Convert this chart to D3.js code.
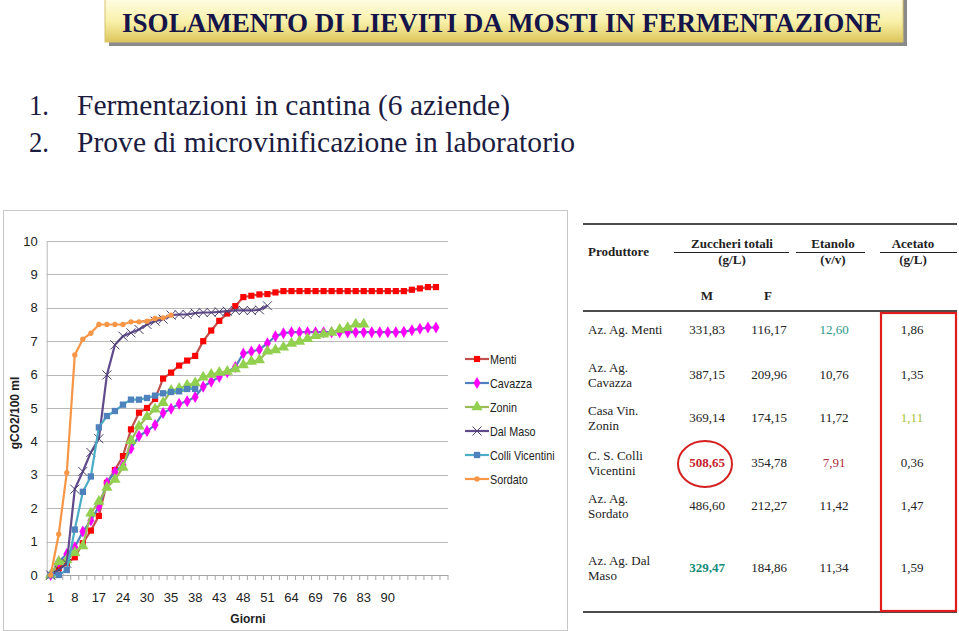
<!DOCTYPE html>
<html>
<head>
<meta charset="utf-8">
<script src="https://cdn.jsdelivr.net/npm/d3@7"></script>
<style>
  body { margin: 0; background: #fff; }
  svg { display: block; }
</style>
</head>
<body>
<div id="slide"></div>
<script>
// ---- data ----
var categories = d3.range(50);
var tickLabels = ["1", "8", "17", "24", "30", "35", "38", "43", "48", "51", "64", "69", "76", "83", "90"];
var yTicks = [0, 1, 2, 3, 4, 5, 6, 7, 8, 9, 10];

var menti = [0, 0.2, 0.35, 0.53, 0.95, 1.33, 1.77, 2.76, 3.14, 3.56, 4.36, 4.86, 5.0, 5.27, 5.88, 6.06, 6.27, 6.42, 6.56, 7.0, 7.32, 7.61, 7.83, 8.05, 8.32, 8.36, 8.4, 8.41, 8.46, 8.5,
  8.5, 8.5, 8.5, 8.5, 8.5, 8.5, 8.5, 8.5, 8.5, 8.5, 8.5, 8.5, 8.5, 8.5, 8.5, 8.54, 8.58, 8.62, 8.62];
var cavazza = [0, 0.4, 0.63, 0.83, 1.3, 1.63, 2.05, 2.76, 3.09, 3.29, 3.79, 4.16, 4.31, 4.49, 4.85, 4.98, 5.13, 5.2, 5.33, 5.64, 5.79, 5.93, 6.07, 6.23, 6.63, 6.69, 6.75, 6.94, 7.15, 7.24,
  7.27, 7.27, 7.27, 7.27, 7.27, 7.27, 7.27, 7.27, 7.27, 7.27, 7.27, 7.27, 7.27, 7.27, 7.28, 7.33, 7.37, 7.41, 7.41];
var zonin = [0, 0.4, 0.45, 0.67, 0.87, 1.85, 2.2, 2.62, 2.86, 3.22, 4.02, 4.45, 4.74, 4.96, 5.16, 5.52, 5.58, 5.68, 5.75, 5.92, 6.0, 6.06, 6.09, 6.17, 6.29, 6.39, 6.44, 6.7, 6.74, 6.82,
  6.93, 6.99, 7.07, 7.16, 7.21, 7.26, 7.35, 7.4, 7.51, 7.51];
var dalMaso = [0, 0.15, 0.35, 2.57, 3.1, 3.67, 4.08, 5.99, 6.89, 7.15, 7.25, 7.35, 7.5, 7.6, 7.66, 7.78, 7.8, 7.8, 7.84, 7.86, 7.86, 7.88, 7.9, 7.92, 7.92, 7.92, 7.94, 8.06];
var colliVicentini = [0, 0, 0.15, 1.36, 2.49, 2.95, 4.42, 4.76, 4.91, 5.1, 5.25, 5.25, 5.3, 5.37, 5.44, 5.48, 5.5, 5.57, 5.57];
var sordato = [0, 1.22, 3.06, 6.59, 7.06, 7.24, 7.5, 7.5, 7.5, 7.5, 7.58, 7.58, 7.6, 7.68, 7.7, 7.78];

var seriesNames = ["Menti", "Cavazza", "Zonin", "Dal Maso", "Colli Vicentini", "Sordato"];
var seriesValues = [menti, cavazza, zonin, dalMaso, colliVicentini, sordato];

// table
var tableRows = ["Az. Ag. Menti", "Az. Ag.|Cavazza", "Casa Vin.|Zonin", "C. S. Colli|Vicentini", "Az. Ag.|Sordato", "Az. Ag. Dal|Maso"];
var zuccheriM = ["331,83", "387,15", "369,14", "508,65", "486,60", "329,47"];
var zuccheriF = ["116,17", "209,96", "174,15", "354,78", "212,27", "184,86"];
var etanolo = ["12,60", "10,76", "11,72", "7,91", "11,42", "11,34"];
var acetato = ["1,86", "1,35", "1,11", "0,36", "1,47", "1,59"];

// ---- styles ----
var styles = [
  { line: "#c0504d", fill: "#ff0000", shape: "square", size: 38 },
  { line: "#4f81bd", fill: "#ff00ff", shape: "diamond", size: 42 },
  { line: "#9bbb59", fill: "#92d050", shape: "triangle", size: 55 },
  { line: "#5f4b8b", fill: "none", shape: "x", size: 4.5 },
  { line: "#4bacc6", fill: "#4f81bd", shape: "square", size: 40 },
  { line: "#f79646", fill: "#f79646", shape: "circle", size: 22 }
];

var W = 959, H = 631;
var svg = d3.select("#slide").append("svg")
    .attr("width", W)
    .attr("height", H);

var defs = svg.append("defs");
var grad = defs.append("linearGradient")
    .attr("id", "banner")
    .attr("x1", 0).attr("y1", 0).attr("x2", 0).attr("y2", 1);
grad.append("stop").attr("offset", "0%").attr("stop-color", "#fffde6");
grad.append("stop").attr("offset", "55%").attr("stop-color", "#f8f0a8");
grad.append("stop").attr("offset", "100%").attr("stop-color", "#dcc55a");

// Title banner
svg.append("rect")
    .attr("x", 109).attr("y", -2)
    .attr("width", 798).attr("height", 48)
    .attr("fill", "#8a8a8a");
svg.append("rect")
    .attr("x", 105).attr("y", -2)
    .attr("width", 798).attr("height", 44)
    .attr("fill", "url(#banner)")
    .attr("stroke", "#d8c470")
    .attr("stroke-width", 1);
svg.append("text")
    .attr("x", 122).attr("y", 32)
    .attr("textLength", 760)
    .attr("lengthAdjust", "spacingAndGlyphs")
    .attr("font-family", "Liberation Serif, Times New Roman, serif")
    .attr("font-weight", "bold")
    .attr("font-size", "28px")
    .attr("fill", "#15154a")
    .text("ISOLAMENTO DI LIEVITI DA MOSTI IN FERMENTAZIONE");

// Bullets
var bullets = ["Fermentazioni in cantina (6 aziende)", "Prove di microvinificazione in laboratorio"];
var bulletWidths = [433, 498];
bullets.forEach(function(b, i) {
    var yy = 115 + i * 37;
    svg.append("text")
        .attr("x", 29).attr("y", yy)
        .attr("font-family", "Liberation Serif, Times New Roman, serif")
        .attr("font-size", "30px")
        .attr("textLength", 20)
        .attr("lengthAdjust", "spacingAndGlyphs")
        .attr("fill", "#1c1c40")
        .text((i + 1) + ".");
    svg.append("text")
        .attr("x", 77).attr("y", yy)
        .attr("textLength", bulletWidths[i])
        .attr("lengthAdjust", "spacingAndGlyphs")
        .attr("font-family", "Liberation Serif, Times New Roman, serif")
        .attr("font-size", "30px")
        .attr("fill", "#1c1c40")
        .text(b);
});

// ---- chart ----
svg.append("rect")
    .attr("x", 3.5).attr("y", 210.5)
    .attr("width", 564).attr("height", 420)
    .attr("fill", "#fff")
    .attr("stroke", "#c8c8c8")
    .attr("stroke-width", 1);

var plot = { left: 46.7, right: 448, top: 241, bottom: 575 };
var chartFont = "Liberation Sans, Arial, sans-serif";

var x = d3.scaleBand()
    .domain(categories)
    .range([plot.left, plot.right]);

var y = d3.scaleLinear()
    .domain([0, 10])
    .range([plot.bottom, plot.top]);

var g = svg.append("g");

// gridlines
g.append("g")
    .selectAll("line")
    .data(yTicks)
    .enter().append("line")
        .attr("x1", plot.left)
        .attr("x2", plot.right)
        .attr("y1", function(d) { return Math.round(y(d)) + 0.5; })
        .attr("y2", function(d) { return Math.round(y(d)) + 0.5; })
        .attr("stroke", function(d) { return d === 0 ? "#a6a6a6" : "#b8b8b8"; })
        .attr("stroke-width", 1.2);

// y axis
var yAxisCall = d3.axisLeft(y)
    .tickValues(yTicks)
    .tickSize(0)
    .tickPadding(9);
var yAxis = g.append("g")
    .attr("class", "y-axis")
    .attr("transform", "translate(" + plot.left + ",0)")
    .call(yAxisCall);
yAxis.select(".domain").attr("stroke", "#b8b8b8");
yAxis.selectAll("text")
    .attr("font-family", chartFont)
    .style("font-size", "13px")
    .attr("fill", "#222");

// x axis: tick marks at category boundaries
g.append("g")
    .selectAll("line")
    .data(d3.range(categories.length + 1))
    .enter().append("line")
        .attr("x1", function(i) { return plot.left + i * x.step(); })
        .attr("x2", function(i) { return plot.left + i * x.step(); })
        .attr("y1", plot.bottom)
        .attr("y2", plot.bottom + 5)
        .attr("stroke", "#a6a6a6");

g.append("g")
    .selectAll("text")
    .data(tickLabels)
    .enter().append("text")
        .attr("x", function(d, i) { return x(i * 3) + x.bandwidth() / 2; })
        .attr("y", 602)
        .attr("text-anchor", "middle")
        .attr("font-family", chartFont)
        .attr("font-size", "13px")
        .attr("fill", "#222")
        .text(function(d) { return d; });

// axis labels
g.append("text")
    .attr("x", 248).attr("y", 623)
    .attr("text-anchor", "middle")
    .attr("font-family", chartFont)
    .attr("font-weight", "bold")
    .attr("font-size", "12px")
    .attr("fill", "#222")
    .text("Giorni");

g.append("text")
    .attr("transform", "translate(19,413) rotate(-90)")
    .attr("text-anchor", "middle")
    .attr("font-family", chartFont)
    .attr("font-weight", "bold")
    .attr("font-size", "12px")
    .attr("fill", "#222")
    .text("gCO2/100 ml");

var line = d3.line()
    .x(function(d, i) { return x(i) + x.bandwidth() / 2; })
    .y(function(d) { return y(d); });

function drawMarker(sel, st) {
    if (st.shape === "x") {
        var s = st.size;
        sel.append("path")
            .attr("d", "M" + (-s) + "," + (-s) + "L" + s + "," + s + "M" + (-s) + "," + s + "L" + s + "," + (-s))
            .attr("stroke", "#4a3f6e")
            .attr("stroke-width", 1)
            .attr("fill", "none");
    } else {
        var type = { square: d3.symbolSquare, diamond: d3.symbolDiamond, triangle: d3.symbolTriangle, circle: d3.symbolCircle }[st.shape];
        sel.append("path")
            .attr("d", d3.symbol().type(type).size(st.size))
            .attr("fill", st.fill)
            .attr("stroke", "none");
    }
}

seriesValues.forEach(function(vals, si) {
    var st = styles[si];
    var sg = g.append("g").attr("class", "series");
    sg.append("path")
        .datum(vals)
        .attr("d", line)
        .attr("fill", "none")
        .attr("stroke", st.line)
        .attr("stroke-width", 2.2);
    sg.selectAll(".pt")
        .data(vals)
        .enter().append("g")
            .attr("class", "pt")
            .attr("transform", function(d, i) {
                return "translate(" + (x(i) + x.bandwidth() / 2) + "," + y(d) + ")";
            })
            .each(function() { drawMarker(d3.select(this), st); });
});

// legend
var legend = g.append("g").attr("transform", "translate(465,359)");
seriesNames.forEach(function(name, i) {
    var st = styles[i];
    var lg = legend.append("g").attr("transform", "translate(0," + (i * 24) + ")");
    lg.append("line")
        .attr("x1", 0).attr("x2", 24)
        .attr("stroke", st.line)
        .attr("stroke-width", 2.2);
    drawMarker(lg.append("g").attr("transform", "translate(12,0)"), st);
    lg.append("text")
        .attr("transform", "translate(25,4.5) scale(0.83,1)")
        .attr("font-family", chartFont)
        .attr("font-size", "13px")
        .attr("fill", "#222")
        .text(name);
});

// ---- table ----
var tf = "Liberation Serif, Times New Roman, serif";
var tg = svg.append("g");
tg.append("rect")
    .attr("x", 570).attr("y", 211)
    .attr("width", 389).attr("height", 420)
    .attr("fill", "#fff");

tg.append("line").attr("x1", 583).attr("x2", 957).attr("y1", 224).attr("y2", 224)
    .attr("stroke", "#111").attr("stroke-width", 1.6);
tg.append("line").attr("x1", 583).attr("x2", 957).attr("y1", 311).attr("y2", 311)
    .attr("stroke", "#111").attr("stroke-width", 1.6);
tg.append("line").attr("x1", 583).attr("x2", 957).attr("y1", 612).attr("y2", 612)
    .attr("stroke", "#111").attr("stroke-width", 1.6);

function ttext(txt, xx, yy, opts) {
    opts = opts || {};
    return tg.append("text")
        .attr("x", xx).attr("y", yy)
        .attr("text-anchor", opts.anchor || "middle")
        .attr("font-family", tf)
        .attr("font-size", opts.size || "13px")
        .attr("font-weight", opts.bold ? "bold" : "normal")
        .attr("fill", opts.fill || "#222")
        .text(txt);
}

ttext("Produttore", 588, 256, { anchor: "start", bold: true });
var heads = [
  { t: "Zuccheri totali", u: "(g/L)", cx: 732, x1: 674, x2: 789 },
  { t: "Etanolo", u: "(v/v)", cx: 833, x1: 796, x2: 865 },
  { t: "Acetato", u: "(g/L)", cx: 913, x1: 880, x2: 957 }
];
heads.forEach(function(h) {
    ttext(h.t, h.cx, 248, { bold: true });
    ttext(h.u, h.cx, 264, { bold: true });
    tg.append("line").attr("x1", h.x1).attr("x2", h.x2).attr("y1", 252.5).attr("y2", 252.5)
        .attr("stroke", "#222").attr("stroke-width", 1.2);
});
ttext("M", 707, 300, { bold: true });
ttext("F", 768, 300, { bold: true });

var rowY = [334, 379, 422, 467, 510, 572];
tableRows.forEach(function(r, i) {
    var parts = r.split("|");
    if (parts.length === 1) {
        ttext(parts[0], 588, rowY[i], { anchor: "start" });
    } else {
        ttext(parts[0], 588, rowY[i] - 7, { anchor: "start" });
        ttext(parts[1], 588, rowY[i] + 8, { anchor: "start" });
    }
    ttext(zuccheriM[i], 707, rowY[i], {
        bold: i === 3 || i === 5,
        fill: i === 3 ? "#c4202a" : (i === 5 ? "#138a78" : "#222")
    });
    ttext(zuccheriF[i], 769, rowY[i]);
    ttext(etanolo[i], 834, rowY[i], {
        fill: i === 0 ? "#2a9a88" : (i === 3 ? "#b02a3a" : "#222")
    });
    ttext(acetato[i], 912, rowY[i], { fill: i === 2 ? "#a8c43a" : "#222" });
});

// highlights
tg.append("ellipse")
    .attr("cx", 705).attr("cy", 464)
    .attr("rx", 27).attr("ry", 23)
    .attr("fill", "none")
    .attr("stroke", "#d42020")
    .attr("stroke-width", 2);
tg.append("rect")
    .attr("x", 881).attr("y", 313)
    .attr("width", 75).attr("height", 298)
    .attr("fill", "none")
    .attr("stroke", "#e01c1c")
    .attr("stroke-width", 2.2);
</script>
</body>
</html>
